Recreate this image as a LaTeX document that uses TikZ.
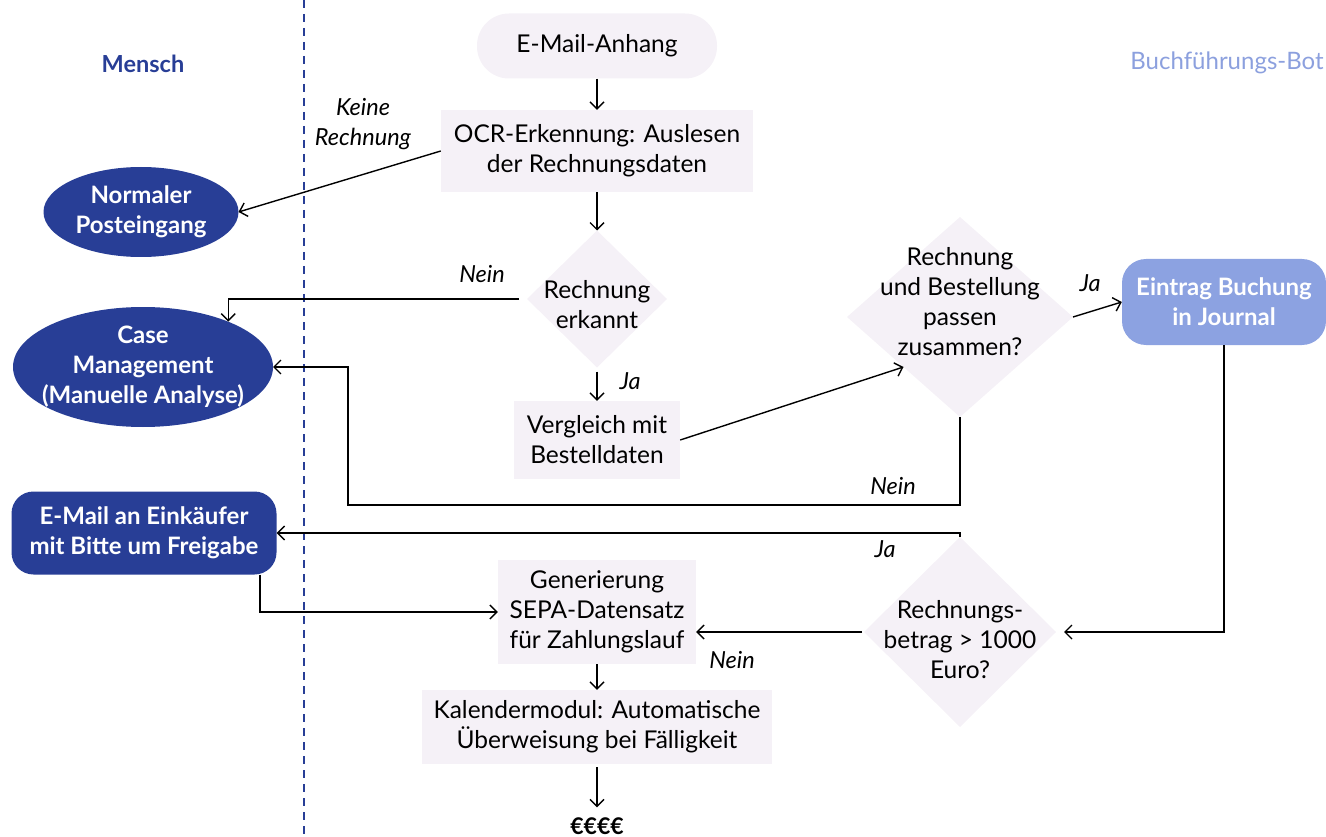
\documentclass[tikz,border=0pt]{standalone}
\usepackage{fontspec}
\setmainfont{Lato}
\usetikzlibrary{shapes.geometric,arrows.meta}
\definecolor{navy}{RGB}{40,62,150}
\definecolor{botblue}{RGB}{140,162,225}
\definecolor{botlabel}{RGB}{140,160,222}
\definecolor{pale}{RGB}{245,241,247}
\tikzset{
  txt/.style={align=center,font=\fontsize{24.5}{30}\selectfont,text=black,inner sep=0pt},
  lbl/.style={font=\fontsize{23.5}{30}\selectfont\itshape,text=black,inner sep=0pt,align=center},
  wtxt/.style={align=center,font=\fontsize{24}{30}\selectfont\bfseries,text=white,inner sep=0pt},
  pbox/.style={fill=pale,draw=none},
  pdia/.style={diamond,fill=pale,draw=none,inner sep=0pt,outer sep=0pt},
  nell/.style={ellipse,fill=navy,draw=none,inner sep=0pt,outer sep=0pt},
  arr/.style={line width=1.4pt,-{Straight Barb[length=7pt,width=14pt,line width=1.4pt]}},
  ln/.style={line width=1.4pt}
}
\begin{document}
\begin{tikzpicture}[x=1pt,y=-1pt]
\useasboundingbox (0,0) rectangle (1326,837);
% swimlane divider
\draw[navy,line width=1.6pt,dash pattern=on 8pt off 6pt] (304,0) -- (304,837);
\node[font=\fontsize{23.5}{28}\selectfont\bfseries,text=navy] (mensch) at (143,64) {Mensch};
\node[font=\fontsize{24}{28}\selectfont,text=botlabel] (bot) at (1227,63) {Buchführungs-Bot};

% main column
\node[pbox,rounded corners=32pt,minimum width=240pt,minimum height=65pt] (anhang) at (597,46) {};
\node[txt] at (anhang) {E-Mail-Anhang};
\node[pbox,minimum width=312pt,minimum height=82pt] (ocr) at (597,151) {};
\node[txt] at (ocr) {OCR-Erkennung: Auslesen\\der Rechnungsdaten};
\node[pdia,minimum width=140pt,minimum height=137pt] (d1) at (597,299) {};
\node[txt] at (597,305) {Rechnung\\erkannt};
\node[pbox,minimum width=166pt,minimum height=78pt] (verg) at (597,440) {};
\node[txt] at (verg) {Vergleich mit\\Bestelldaten};
\node[pdia,minimum width=226pt,minimum height=200pt] (d2) at (960,317) {};
\node[txt] at (960,302) {Rechnung\\und Bestellung\\passen\\zusammen?};
\node[fill=botblue,rounded corners=24pt,minimum width=204pt,minimum height=86pt] (journal) at (1224,302) {};
\node[wtxt] at (journal) {Eintrag Buchung\\in Journal};
\node[pdia,minimum width=192pt,minimum height=190pt] (d3) at (960,632) {};
\node[txt] at (960,640) {Rechnungs-\\betrag > 1000\\Euro?};
\node[pbox,minimum width=198pt,minimum height=104pt] (gen) at (597,612) {};
\node[txt] at (gen) {Generierung\\SEPA-Datensatz\\für Zahlungslauf};
\node[pbox,minimum width=350pt,minimum height=74pt] (kal) at (597,727) {};
\node[txt] at (kal) {Kalendermodul: Automatische\\Überweisung bei Fälligkeit};
\node[font=\fontsize{23}{28}\selectfont\bfseries,inner sep=0pt] (euro) at (597,826) {€€€€};

% human column
\node[nell,minimum width=195pt,minimum height=90pt] (normal) at (141,212) {};
\node[wtxt] at (normal) {Normaler\\Posteingang};
\node[nell,minimum width=260pt,minimum height=120pt] (case) at (143,367) {};
\node[wtxt] at (case) {Case\\Management\\(Manuelle Analyse)};
\node[fill=navy,rounded corners=22pt,minimum width=265pt,minimum height=83pt] (email) at (144,533) {};
\node[wtxt] at (email) {E-Mail an Einkäufer\\mit Bitte um Freigabe};

% connectors
\draw[arr] (anhang.south) -- (ocr.north);
\draw[arr] (ocr.south) -- (d1.north);
\draw[arr] (ocr.west) -- (normal.east);
\node[lbl] (keine) at (363,124) {Keine\\Rechnung};
\draw[arr] ([xshift=-8pt]d1.west) -| (case.28);
\node[lbl] (nein1) at (482,274) {Nein};
\draw[arr] ([yshift=-4pt]d1.south) -- (verg.north);
\node[lbl] (ja1) at (630,381) {Ja};
\draw[arr] (verg.east) -- (d2.south west);
\draw[arr] (d2.east) -- (journal.west);
\node[lbl] (ja2) at (1090,283) {Ja};
\draw[arr] (d2.south) |- (348,505) |- (case.east);
\node[lbl] (nein2) at (893,486) {Nein};
\draw[arr] (journal.south) |- ([xshift=8pt]d3.east);
\draw[arr] (d3.north) |- (email.east);
\node[lbl] (ja3) at (885,549) {Ja};
\draw[arr] ([xshift=-2pt]d3.west) -- (d3.west -| gen.east);
\node[lbl] (nein3) at (732,660) {Nein};
\draw[arr] ([xshift=116pt]email.south) |- (gen.west);
\draw[arr] (gen.south) -- (kal.north);
\draw[arr] ([yshift=-3pt]kal.south) -- ([yshift=10pt]euro.north);
\end{tikzpicture}
\end{document}
